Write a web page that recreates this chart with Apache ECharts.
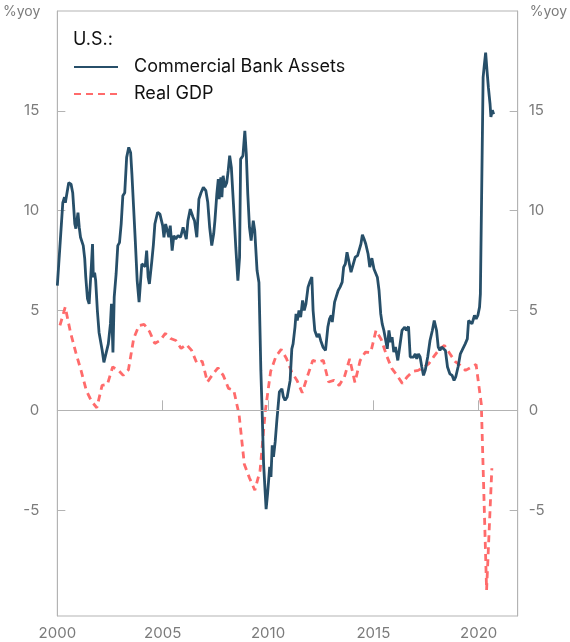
<!DOCTYPE html>
<html>
<head>
<meta charset="utf-8">
<script src="https://cdn.jsdelivr.net/npm/echarts@6/dist/echarts.min.js"></script>
<style>
  html, body { margin: 0; padding: 0; background: #fff; }
  #chart { width: 570px; height: 642px; }
</style>
</head>
<body>
<div id="chart"></div>
<script>
// --- DATA ---
// Commercial bank assets, %yoy (decimal year, value)
const bankDates = [
  2000.00, 2000.26, 2000.34, 2000.38, 2000.54, 2000.65, 2000.73, 2000.83, 2000.88, 2000.98,
  2001.04, 2001.10, 2001.23, 2001.30, 2001.35, 2001.43, 2001.51, 2001.56, 2001.62, 2001.67,
  2001.71, 2001.77, 2001.82, 2001.90, 2001.98, 2002.07, 2002.13, 2002.21, 2002.29, 2002.42,
  2002.52, 2002.57, 2002.64, 2002.70, 2002.79, 2002.87, 2002.95, 2003.03, 2003.11, 2003.20,
  2003.29, 2003.39, 2003.48, 2003.54, 2003.62, 2003.70, 2003.79, 2003.88, 2004.01, 2004.10,
  2004.17, 2004.24, 2004.31, 2004.37, 2004.48, 2004.56, 2004.63, 2004.76, 2004.87, 2005.00,
  2005.06, 2005.14, 2005.22, 2005.29, 2005.36, 2005.45, 2005.53, 2005.62, 2005.73, 2005.85,
  2005.97, 2006.04, 2006.12, 2006.20, 2006.31, 2006.44, 2006.51, 2006.62, 2006.72, 2006.82,
  2006.93, 2007.05, 2007.14, 2007.23, 2007.33, 2007.42, 2007.48, 2007.57, 2007.64, 2007.68,
  2007.76, 2007.81, 2007.87, 2007.95, 2008.04, 2008.11, 2008.18, 2008.26, 2008.36, 2008.47,
  2008.57, 2008.65, 2008.70, 2008.81, 2008.90, 2008.97, 2009.04, 2009.12, 2009.20, 2009.30,
  2009.37, 2009.48, 2009.57, 2009.62, 2009.66, 2009.72, 2009.79, 2009.91, 2009.98, 2010.08,
  2010.14, 2010.20, 2010.26, 2010.34, 2010.42, 2010.54, 2010.66, 2010.73, 2010.81, 2010.91,
  2011.05, 2011.13, 2011.19, 2011.28, 2011.33, 2011.39, 2011.47, 2011.55, 2011.64, 2011.72,
  2011.80, 2011.90, 2011.98, 2012.08, 2012.14, 2012.22, 2012.33, 2012.42, 2012.50, 2012.61,
  2012.73, 2012.84, 2012.92, 2013.00, 2013.05, 2013.16, 2013.24, 2013.33, 2013.42, 2013.52,
  2013.59, 2013.67, 2013.75, 2013.83, 2013.94, 2014.05, 2014.14, 2014.25, 2014.33, 2014.41,
  2014.48, 2014.56, 2014.64, 2014.75, 2014.83, 2014.93, 2015.03, 2015.11, 2015.19, 2015.27,
  2015.35, 2015.42, 2015.50, 2015.58, 2015.66, 2015.74, 2015.82, 2015.89, 2015.97, 2016.05,
  2016.16, 2016.25, 2016.36, 2016.49, 2016.57, 2016.67, 2016.75, 2016.83, 2016.91, 2016.99,
  2017.06, 2017.14, 2017.22, 2017.30, 2017.38, 2017.46, 2017.58, 2017.69, 2017.80, 2017.89,
  2018.00, 2018.08, 2018.16, 2018.24, 2018.32, 2018.42, 2018.52, 2018.63, 2018.74, 2018.83,
  2018.91, 2019.02, 2019.13, 2019.21, 2019.29, 2019.36, 2019.46, 2019.52, 2019.60, 2019.68,
  2019.80, 2019.88, 2019.96, 2020.04, 2020.08, 2020.15, 2020.21, 2020.27, 2020.33, 2020.39,
  2020.46, 2020.54, 2020.58, 2020.65, 2020.71
];
const bankValues = [
  6.25, 10.4, 10.67, 10.4, 11.4, 11.33, 10.9, 9.33, 9.1, 9.9,
  9.17, 8.67, 8.25, 7.6, 6.67, 5.6, 5.33, 5.33, 7.33, 8.33,
  6.67, 6.9, 6.5, 5.0, 3.9, 3.8, 3.0, 2.4, 2.5, 3.33,
  4.33, 5.33, 2.9, 5.67, 6.83, 8.25, 8.4, 9.33, 10.75, 10.9,
  12.67, 13.17, 12.9, 11.83, 10.17, 8.5, 6.5, 5.42, 7.33, 7.4,
  7.2, 8.0, 6.67, 6.33, 7.42, 8.3, 9.33, 9.92, 9.83, 9.25,
  8.67, 9.33, 9.0, 8.67, 9.25, 8.0, 8.75, 8.58, 8.75, 8.67,
  9.17, 9.08, 8.58, 9.5, 10.08, 9.67, 9.5, 8.67, 10.58, 10.9,
  11.17, 11.0, 10.42, 9.17, 8.25, 8.83, 9.5, 10.83, 11.58, 10.58,
  11.67, 10.67, 11.75, 11.17, 11.4, 12.0, 12.75, 12.17, 10.33, 8.17,
  6.5, 7.67, 12.58, 12.75, 14.0, 12.83, 10.83, 9.17, 8.5, 9.5,
  9.0, 7.0, 6.4, 4.0, 2.0, 0.0, -2.67, -4.95, -4.17, -2.83,
  -3.33, -1.75, -2.33, -1.58, -0.5, 0.92, 1.08, 0.67, 0.5, 0.67,
  1.5, 3.08, 3.33, 4.17, 4.83, 4.5, 5.0, 4.67, 5.5, 5.0,
  5.33, 6.17, 6.42, 6.67, 5.0, 4.0, 3.67, 3.83, 3.5, 3.17,
  3.0, 4.17, 4.58, 4.75, 4.42, 5.42, 5.5, 6.0, 6.17, 6.42,
  7.17, 7.33, 7.92, 7.5, 6.92, 7.33, 7.67, 7.75, 7.83, 8.33,
  8.8, 8.58, 8.33, 7.83, 7.17, 7.62, 7.08, 7.17, 6.67, 6.0,
  4.83, 4.33, 4.0, 4.08, 3.08, 4.0, 3.42, 3.67, 2.92, 3.17,
  2.5, 3.17, 4.0, 4.17, 4.0, 4.2, 2.67, 2.75, 2.67, 2.83,
  2.58, 2.83, 2.67, 2.17, 1.75, 2.0, 2.67, 3.5, 4.0, 4.5,
  4.0, 3.17, 3.0, 3.17, 3.08, 3.0, 2.17, 1.83, 1.75, 1.5,
  1.67, 2.17, 2.83, 3.0, 2.92, 3.33, 3.58, 4.5, 4.58, 4.33,
  4.75, 4.58, 4.75, 5.17, 5.83, 11.67, 16.67, 17.33, 17.92, 17.08,
  16.17, 15.33, 14.7, 15.03, 14.83
];

// Real GDP, %yoy, quarterly from 2000 Q1
const gdpStart = 2000.125;
const gdpValues = [
  4.25, 5.17, 3.9, 2.9,
  2.0, 1.0, 0.45, 0.13,
  1.25, 1.3, 2.17, 2.03,
  1.75, 2.03, 3.6, 4.25,
  4.3, 3.95, 3.35, 3.5,
  3.85, 3.6, 3.5, 3.1,
  3.3, 3.0, 2.35, 2.47,
  1.42, 1.8, 2.13, 1.75,
  1.1, 1.0, -0.2, -2.7,
  -3.4, -4.0, -3.0, 0.0,
  1.95, 2.7, 3.05, 2.6,
  1.92, 1.5, 0.88, 1.72,
  2.5, 2.42, 2.5, 1.42,
  1.5, 1.25, 1.67, 2.58,
  1.4, 2.5, 2.92, 2.9,
  4.0, 3.55, 2.75, 2.1,
  1.75, 1.35, 1.7, 1.95,
  2.0, 2.15, 2.33, 2.7,
  3.05, 3.25, 2.85, 2.45,
  2.25, 2.0, 2.15, 2.3,
  0.3, -9.0, -2.9
];

const xTicks = [2000, 2005, 2010, 2015, 2020];
const yTicks = [-5, 0, 5, 10, 15];

// --- STYLE ---
const FONT = 'Inter';
const AXIS_GREY = '#b3b3b3';
const LABEL_GREY = '#7b7b7b';
const BLUE = '#274f69';
const RED = '#ff6b6b';

const bankData = bankDates.map((d, i) => [d, bankValues[i]]);
const gdpData = gdpValues.map((v, i) => [gdpStart + i * 0.25, v]);

function yAxisFor(side) {
  const isLeft = side === 'left';
  return {
    type: 'value',
    position: side,
    min: -10.3,
    max: 20,
    name: '%yoy',
    nameLocation: 'end',
    nameGap: -1,
    nameTextStyle: {
      color: LABEL_GREY, fontFamily: FONT, fontSize: 14,
      align: isLeft ? 'right' : 'left', verticalAlign: 'middle',
      padding: isLeft ? [0, 17, 0, 0] : [0, 0, 0, 12]
    },
    axisLine: { show: true, lineStyle: { color: AXIS_GREY, width: 1 } },
    axisTick: { show: true, inside: true, length: 8, customValues: yTicks, lineStyle: { color: AXIS_GREY } },
    axisLabel: { customValues: yTicks, margin: isLeft ? 18 : 11, color: LABEL_GREY, fontFamily: FONT, fontSize: 15 },
    splitLine: { show: false }
  };
}

// --- CHART ---
const chart = echarts.init(document.getElementById('chart'));

chart.setOption({
  animation: false,
  backgroundColor: '#fff',
  title: {
    text: 'U.S.:',
    left: 73, top: 31, padding: 0,
    textStyle: { color: '#111', fontFamily: FONT, fontSize: 18, fontWeight: 'normal' }
  },
  legend: {
    orient: 'vertical',
    left: 73, top: 58, padding: 0,
    itemWidth: 44, itemHeight: 18, itemGap: 9,
    itemStyle: { opacity: 0, borderWidth: 0 },
    textStyle: { color: '#111', fontFamily: FONT, fontSize: 18, lineHeight: 18, padding: [0, 0, 0, 11] },
    data: ['Commercial Bank Assets', 'Real GDP']
  },
  grid: {
    left: 54.5, right: 49.5, top: 11, bottom: 26,
    show: true, borderColor: AXIS_GREY, borderWidth: 1
  },
  xAxis: {
    type: 'value',
    min: 2000,
    max: 2021.85,
    axisLine: { lineStyle: { color: AXIS_GREY } },
    axisTick: { inside: true, length: 10, customValues: xTicks, lineStyle: { color: AXIS_GREY } },
    axisLabel: {
      customValues: xTicks, margin: 10, color: LABEL_GREY, fontFamily: FONT, fontSize: 15,
      formatter: v => String(v)
    },
    splitLine: { show: false }
  },
  yAxis: [yAxisFor('left'), yAxisFor('right')],
  series: [
    {
      name: 'Commercial Bank Assets',
      type: 'line',
      data: bankData,
      symbol: 'none',
      lineStyle: { color: BLUE, width: 2.8 },
      itemStyle: { color: BLUE },
      z: 3,
      markLine: {
        silent: true,
        symbol: 'none',
        label: { show: false },
        lineStyle: { color: AXIS_GREY, width: 1, type: 'solid' },
        data: [{ yAxis: 0 }]
      }
    },
    {
      name: 'Real GDP',
      type: 'line',
      data: gdpData,
      symbol: 'none',
      lineStyle: { color: RED, width: 2.8, type: [7, 5] },
      itemStyle: { color: RED },
      z: 2
    }
  ]
});
</script>
</body>
</html>
